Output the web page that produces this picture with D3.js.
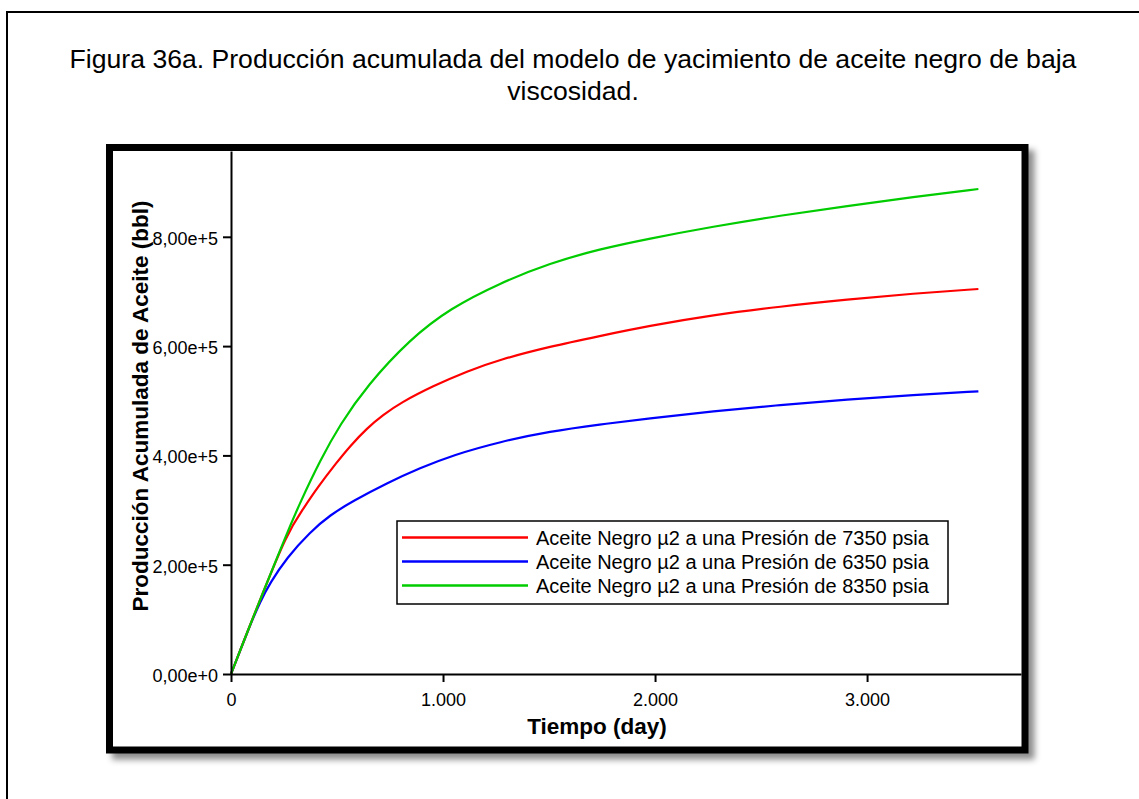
<!DOCTYPE html>
<html>
<head>
<meta charset="utf-8">
<script src="https://cdn.jsdelivr.net/npm/d3@7"></script>
<style>
  html, body { margin: 0; padding: 0; background: #fff; }
  svg { display: block; }
  text { font-family: "Liberation Sans", Arial, sans-serif; fill: #000; }
</style>
</head>
<body>
<svg id="chart" width="1139" height="799"></svg>
<script>
// ---- data ----
const titleLines = ["Figura 36a. Producción acumulada del modelo de yacimiento de aceite negro de baja", "viscosidad."];
const xTitle = "Tiempo (day)";
const yTitle = "Producción Acumulada de Aceite (bbl)";
const xTicks = [0, 1000, 2000, 3000];
const xTickLabels = ["0", "1.000", "2.000", "3.000"];
const yTicks = [0, 200000, 400000, 600000, 800000];
const yTickLabels = ["0,00e+0", "2,00e+5", "4,00e+5", "6,00e+5", "8,00e+5"];

const days7350 = [0, 90, 137, 264, 340, 406, 500, 562, 642, 717, 798, 953, 1114, 1269, 1505, 1741, 1963, 2275, 2591, 2907, 3218, 3525];
const p7350    = [0, 89700, 135400, 258000, 301900, 340300, 387900, 417200, 450100, 473900, 495900, 527000, 554000, 575500, 599300, 618500, 636500, 656900, 672500, 685300, 696200, 704500];

const days6350 = [0, 90, 137, 184, 264, 373, 467, 576, 736, 892, 1048, 1269, 1505, 1741, 1963, 2275, 2591, 2907, 3218, 3525];
const p6350    = [0, 89700, 131700, 166500, 213200, 259800, 290900, 316600, 349500, 376900, 400700, 425000, 444000, 456500, 467500, 481000, 492200, 502300, 510500, 517300];

const days8350 = [0, 90, 137, 264, 326, 420, 514, 642, 845, 1033, 1269, 1505, 1741, 1963, 2275, 2591, 2907, 3218, 3525];
const p8350    = [0, 89700, 135400, 258000, 313800, 390700, 456500, 527900, 613000, 669000, 715500, 752000, 777700, 796000, 818800, 839000, 856300, 872800, 887500];

const seriesNames = ["Aceite Negro µ2 a una Presión de 7350 psia", "Aceite Negro µ2 a una Presión de 6350 psia", "Aceite Negro µ2 a una Presión de 8350 psia"];
const seriesDays = [days7350, days6350, days8350];
const seriesValues = [p7350, p6350, p8350];
const seriesColors = ["#ff0000", "#0000ff", "#00cc00"];

// ---- drawing ----
const svg = d3.select("#chart");

// outer figure border
svg.append("rect").attr("x", 7).attr("y", 12).attr("width", 1200).attr("height", 900)
  .attr("fill", "none").attr("stroke", "#000").attr("stroke-width", 2);

// title
svg.append("text").attr("x", 573).attr("y", 68).attr("text-anchor", "middle")
  .style("font-size", "26.6px").text(titleLines[0]);
svg.append("text").attr("x", 573).attr("y", 100).attr("text-anchor", "middle")
  .style("font-size", "26.6px").text(titleLines[1]);

// shadow filter
const defs = svg.append("defs");
const f = defs.append("filter").attr("id", "shadow").attr("x", "-5%").attr("y", "-5%").attr("width", "115%").attr("height", "115%");
f.append("feDropShadow").attr("dx", 6).attr("dy", 6).attr("stdDeviation", 3)
  .attr("flood-color", "#000").attr("flood-opacity", 0.45);

// chart frame
svg.append("rect").attr("x", 109.5).attr("y", 147.5).attr("width", 915.5).attr("height", 602.5)
  .attr("fill", "#fff").attr("stroke", "#000").attr("stroke-width", 7).attr("filter", "url(#shadow)");

// scales
const x = d3.scaleLinear().domain([0, 3726]).range([231, 1021]);
const y = d3.scaleLinear().domain([0, 957000]).range([674, 151]);

// curves
const g = svg.append("g");
[1, 0, 2].forEach(k => {
  const ds = seriesDays[k];
  const line = d3.line().x((d, i) => x(ds[i])).y(d => y(d)).curve(d3.curveBasis);
  g.append("path").datum(seriesValues[k]).attr("d", line)
    .attr("fill", "none").attr("stroke", seriesColors[k]).attr("stroke-width", 2.2);
});

// axes
const xAxis = d3.axisBottom(x).tickValues(xTicks).tickFormat((d, i) => xTickLabels[i])
  .tickSize(8).tickSizeOuter(0).tickPadding(11);
const yAxis = d3.axisLeft(y).tickValues(yTicks).tickFormat((d, i) => yTickLabels[i])
  .tickSize(8).tickSizeOuter(0).tickPadding(5);

const gx = svg.append("g").attr("transform", "translate(0,674)").call(xAxis);
const gy = svg.append("g").attr("transform", "translate(231,0)").call(yAxis);
[gx, gy].forEach(a => {
  a.select(".domain").attr("stroke", "#000").attr("stroke-width", 2);
  a.selectAll(".tick line").attr("stroke", "#000").attr("stroke-width", 2);
  a.selectAll(".tick text").style("font-size", "18px").style("font-family", "'Liberation Sans', Arial, sans-serif").attr("fill", "#000");
});
gy.selectAll(".tick text").attr("dy", "0.42em");

// axis titles
svg.append("text").attr("x", 597).attr("y", 734).attr("text-anchor", "middle")
  .style("font-size", "22.5px").style("font-weight", "bold").text(xTitle);
svg.append("text").attr("transform", "translate(148,406) rotate(-90)").attr("text-anchor", "middle")
  .style("font-size", "22.5px").style("font-weight", "bold").text(yTitle);

// legend
const lg = svg.append("g");
lg.append("rect").attr("x", 397).attr("y", 521).attr("width", 551).attr("height", 83)
  .attr("fill", "#fff").attr("stroke", "#000").attr("stroke-width", 1.5);
const legY = [537.5, 561.5, 585.5];
seriesNames.forEach((name, i) => {
  lg.append("line").attr("x1", 402).attr("x2", 528).attr("y1", legY[i]).attr("y2", legY[i])
    .attr("stroke", seriesColors[i]).attr("stroke-width", 2.5);
  lg.append("text").attr("x", 536).attr("y", legY[i] + 7).style("font-size", "20px").text(name);
});
</script>
</body>
</html>
